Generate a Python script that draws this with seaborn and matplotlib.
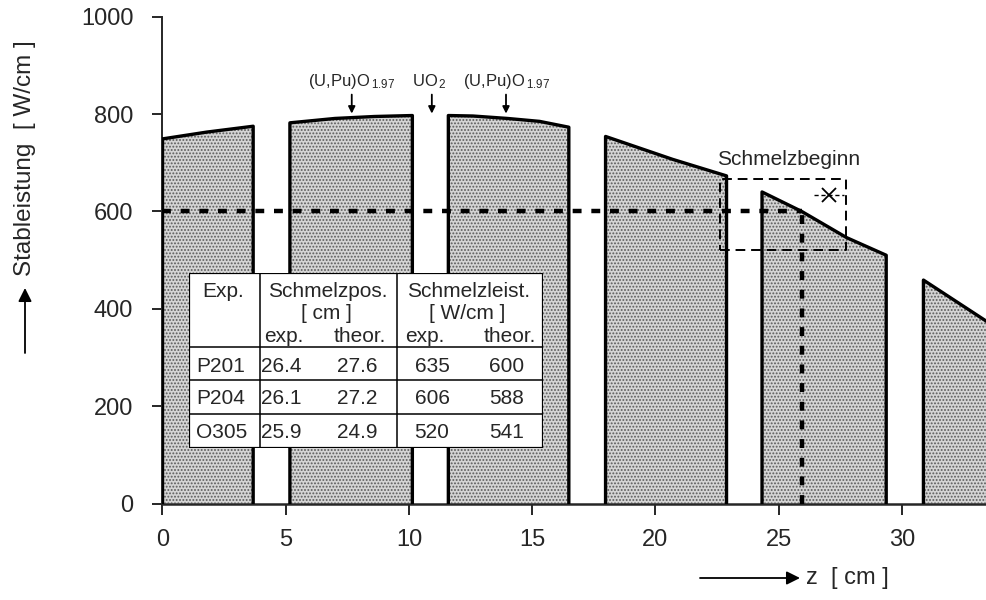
import matplotlib
matplotlib.use("Agg")
import matplotlib.pyplot as plt
from matplotlib.patches import Rectangle
import pandas as pd
import seaborn as sns

# Rod power along the fuel column, one (z, P) list pair per pellet stack
seg_z = [
    [0.0, 1.8, 3.68],
    [5.17, 7.0, 8.6, 10.14],
    [11.6, 12.6, 14.0, 15.3, 16.49],
    [17.98, 20.7, 22.89],
    [24.33, 25.94, 27.77, 29.37],
    [30.88, 33.6],
]
seg_p = [
    [749, 763, 775],
    [782, 791, 795, 797],
    [797, 796, 791, 785, 773],
    [754, 707, 673],
    [640, 600, 546, 510],
    [459, 369],
]

# Melting onset: power level and axial position
melt_power = 600
melt_z = 25.94
onset_box_z = [22.63, 27.74]
onset_box_p = [520, 667]
onset_point = (27.05, 634)

# Fuel type markers above the stacks
fuel_labels = ["(U,Pu)O$_{\\,1.97}$", "UO$_{\\,2}$", "(U,Pu)O$_{\\,1.97}$"]
fuel_label_z = [7.68, 10.85, 13.98]
fuel_arrow_z = [7.68, 10.93, 13.94]

# Table of melting position / power
exp_names = ["P201", "P204", "O305"]
pos_exp = ["26.4", "26.1", "25.9"]
pos_theor = ["27.6", "27.2", "24.9"]
pow_exp = ["635", "606", "520"]
pow_theor = ["600", "588", "541"]

x_ticks = [0, 5, 10, 15, 20, 25, 30]
y_ticks = [0, 200, 400, 600, 800, 1000]

sns.set_theme(style="ticks")
plt.rcParams["font.family"] = ["Liberation Sans", "DejaVu Sans"]
plt.rcParams["mathtext.default"] = "regular"
plt.rcParams["hatch.linewidth"] = 0.9

W, H = 987, 600
fig = plt.figure(figsize=(W / 100, H / 100), dpi=100)
x0, x1 = 162.5, 987.0
y_top, y_bot = 16.7, 503.5
ax = fig.add_axes([x0 / W, 1 - y_bot / H, (x1 - x0) / W, (y_bot - y_top) / H])
ax.set_xlim(0, 33.46)
ax.set_ylim(0, 1000)

# outlines of each stack: up the left edge, along the top, down the right edge
rows = []
for i, (zs, ps) in enumerate(zip(seg_z, seg_p)):
    pts = [(zs[0], 0)] + list(zip(zs, ps)) + [(zs[-1], 0)]
    for k, (z, p) in enumerate(pts):
        rows.append({"seg": i, "order": k, "z": z, "P": p})
outline = pd.DataFrame(rows)

for zs, ps in zip(seg_z, seg_p):
    ax.fill_between(zs, 0, ps, facecolor="#d4d4d4", edgecolor="#5a5a5a",
                    hatch=".....", linewidth=0, zorder=1)

sns.lineplot(data=outline, x="z", y="P", units="seg", estimator=None,
             sort=False, color="black", linewidth=2.4, ax=ax, zorder=3,
             legend=False)

# melting threshold lines
ax.plot([0, melt_z], [melt_power, melt_power], color="black", lw=3.2,
        dashes=(2.0, 2.2), solid_capstyle="butt", zorder=4)
ax.plot([melt_z, melt_z], [0, melt_power], color="black", lw=3.2,
        dashes=(2.0, 2.2), solid_capstyle="butt", zorder=4)

# melting-onset region
bz, bp = onset_box_z, onset_box_p
ax.plot([bz[0], bz[1], bz[1], bz[0], bz[0]], [bp[0], bp[0], bp[1], bp[1], bp[0]],
        color="black", lw=1.4, dashes=(5, 3), zorder=4)
ax.plot([onset_point[0]], [onset_point[1]], marker="x", color="black",
        markersize=10, mew=1.3, zorder=5)
ax.plot([onset_point[0] - 0.6, onset_point[0] + 0.6],
        [onset_point[1], onset_point[1]], color="black", lw=1.0,
        dashes=(3, 2), zorder=5)
ax.text(25.4, 707, "Schmelzbeginn", ha="center", va="center", fontsize=15)

# fuel type labels with arrows
for lab, tz, az in zip(fuel_labels, fuel_label_z, fuel_arrow_z):
    ax.text(tz, 858, lab, ha="center", va="baseline", fontsize=12)
    ax.annotate("", xy=(az, 801), xytext=(az, 840),
                arrowprops=dict(arrowstyle="-|>", color="black", lw=1.3,
                                mutation_scale=10, shrinkA=0, shrinkB=0))

# axes styling
sns.despine(ax=ax, top=True, right=True)
ax.spines["left"].set_linewidth(1.4)
ax.spines["bottom"].set_linewidth(1.8)
ax.set_xticks(x_ticks)
ax.set_yticks(y_ticks)
ax.tick_params(axis="y", length=7, width=1.4, pad=14, labelsize=17, direction="out")
ax.tick_params(axis="x", length=8, width=1.4, pad=10, labelsize=17, direction="out")
ax.set_xlabel("")
ax.set_ylabel("")
ax.set_facecolor("white")
fig.patch.set_facecolor("white")

# axis titles with arrows
fig.text(25 / W, 1 - 158 / H, "Stableistung  [ W/cm ]", rotation=90,
         ha="center", va="center", fontsize=17.5)
ax.annotate("", xy=(25, H - 288), xytext=(25, H - 353), xycoords="figure pixels",
            textcoords="figure pixels",
            arrowprops=dict(arrowstyle="-|>", color="black", lw=1.3,
                            mutation_scale=20, shrinkA=0, shrinkB=0))
ax.annotate("", xy=(800, H - 578), xytext=(700, H - 578), xycoords="figure pixels",
            textcoords="figure pixels",
            arrowprops=dict(arrowstyle="-|>", color="black", lw=1.3,
                            mutation_scale=20, shrinkA=0, shrinkB=0))
fig.text(806 / W, 1 - 578 / H, "z  [ cm ]", ha="left", va="center", fontsize=17)

# melting table
tl, tr, tt, tb = 189, 543, 273, 448
tax = fig.add_axes([tl / W, 1 - tb / H, (tr - tl) / W, (tb - tt) / H])
tax.set_xlim(tl, tr)
tax.set_ylim(tb, tt)
tax.axis("off")
tax.add_patch(Rectangle((tl, tt), tr - tl, tb - tt, facecolor="white",
                        edgecolor="black", lw=1.6, zorder=1))
for yy in [347, 380, 414]:
    tax.plot([tl, tr], [yy, yy], color="black", lw=1.1, zorder=2)
for xx in [260, 397]:
    tax.plot([xx, xx], [tt, tb], color="black", lw=1.1, zorder=2)

fs = 15
tax.text(223, 291, "Exp.", ha="center", va="center", fontsize=fs)
tax.text(328, 291, "Schmelzpos.", ha="center", va="center", fontsize=fs)
tax.text(326, 313, "[ cm ]", ha="center", va="center", fontsize=fs)
tax.text(284, 336, "exp.", ha="center", va="center", fontsize=fs)
tax.text(360, 336, "theor.", ha="center", va="center", fontsize=fs)
tax.text(469, 291, "Schmelzleist.", ha="center", va="center", fontsize=fs)
tax.text(467, 313, "[ W/cm ]", ha="center", va="center", fontsize=fs)
tax.text(425, 336, "exp.", ha="center", va="center", fontsize=fs)
tax.text(510, 336, "theor.", ha="center", va="center", fontsize=fs)
row_y = [366, 398, 432]
for yy, n, a, b, c, d in zip(row_y, exp_names, pos_exp, pos_theor, pow_exp, pow_theor):
    tax.text(196, yy, n, ha="left", va="center", fontsize=fs)
    tax.text(281, yy, a, ha="center", va="center", fontsize=fs)
    tax.text(357, yy, b, ha="center", va="center", fontsize=fs)
    tax.text(432, yy, c, ha="center", va="center", fontsize=fs)
    tax.text(507, yy, d, ha="center", va="center", fontsize=fs)

fig.savefig("out.png", dpi=100, facecolor="white")
